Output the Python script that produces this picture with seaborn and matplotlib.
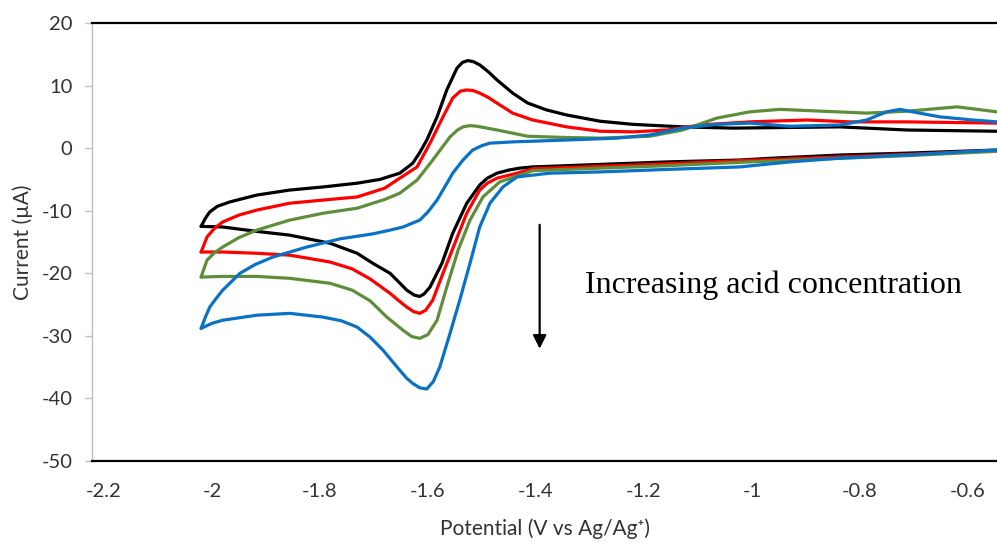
import matplotlib
matplotlib.use('Agg')
import matplotlib.pyplot as plt
import matplotlib.ticker as mticker
import pandas as pd
import seaborn as sns

# Cyclic voltammograms: (potential V, current uA)
# forward (upper) and reverse (lower) branches per acid level
black_fwd_E = [-2.02, -2.012, -2.004, -1.990, -1.967, -1.917, -1.856, -1.794, -1.731, -1.689, -1.652, -1.628,
               -1.615, -1.602, -1.583, -1.565, -1.546, -1.536, -1.526, -1.515, -1.504, -1.488, -1.472,
               -1.443, -1.415, -1.380, -1.343, -1.281, -1.220, -1.128, -1.035, -0.837, -0.713, -0.546]
black_fwd_I = [-12.5, -11.2, -10.2, -9.3, -8.6, -7.5, -6.7, -6.2, -5.6, -5.0, -4.0, -2.4,
               -0.7, 1.3, 5.0, 9.3, 12.8, 13.7, 14.0, 13.8, 13.3, 12.2, 10.9,
               8.8, 7.2, 6.1, 5.3, 4.3, 3.8, 3.4, 3.2, 3.4, 2.9, 2.7]
black_rev_E = [-0.546, -0.713, -0.837, -0.961, -1.022, -1.157, -1.281, -1.406, -1.430, -1.450, -1.472,
               -1.490, -1.504, -1.528, -1.554, -1.574, -1.596, -1.607, -1.615, -1.625, -1.639, -1.655,
               -1.670, -1.702, -1.731, -1.781, -1.856, -1.917, -1.980, -2.02]
black_rev_I = [-0.3, -0.8, -1.1, -1.6, -1.9, -2.2, -2.6, -3.0, -3.2, -3.5, -4.0,
               -4.8, -5.9, -8.8, -13.6, -18.4, -22.2, -23.3, -23.7, -23.5, -22.7, -21.3,
               -20.0, -18.4, -16.8, -15.2, -13.9, -13.3, -12.6, -12.5]

red_fwd_E = [-2.02, -2.014, -2.009, -1.995, -1.980, -1.950, -1.917, -1.856, -1.794, -1.731, -1.680, -1.652,
             -1.620, -1.596, -1.572, -1.554, -1.540, -1.528, -1.516, -1.504, -1.488, -1.472, -1.443,
             -1.406, -1.343, -1.281, -1.220, -1.157, -1.096, -1.004, -0.898, -0.819, -0.713, -0.546]
red_fwd_I = [-16.6, -15.3, -14.2, -12.8, -11.8, -10.7, -9.9, -8.8, -8.3, -7.8, -6.4, -4.8,
             -3.0, 0.8, 5.0, 8.0, 9.1, 9.3, 9.2, 8.8, 8.1, 7.2, 5.6,
             4.5, 3.4, 2.7, 2.6, 2.9, 3.7, 4.2, 4.5, 4.2, 4.2, 4.0]
red_rev_E = [-0.546, -0.713, -1.022, -1.157, -1.281, -1.406, -1.435, -1.472, -1.490, -1.504, -1.528,
             -1.550, -1.572, -1.591, -1.604, -1.615, -1.627, -1.639, -1.655, -1.670, -1.707, -1.740,
             -1.781, -1.856, -1.917, -1.980, -2.02]
red_rev_I = [-0.4, -1.0, -2.0, -2.5, -2.9, -3.3, -4.0, -4.8, -5.6, -6.7, -10.4,
             -15.2, -20.0, -24.3, -25.9, -26.4, -26.1, -25.4, -24.3, -23.2, -20.9, -19.3,
             -18.2, -17.1, -16.8, -16.6, -16.6]

green_fwd_E = [-2.02, -2.014, -2.009, -1.995, -1.980, -1.950, -1.917, -1.856, -1.794, -1.731, -1.680,
               -1.652, -1.620, -1.591, -1.559, -1.545, -1.535, -1.522, -1.509, -1.472, -1.415, -1.343,
               -1.281, -1.189, -1.128, -1.065, -1.004, -0.948, -0.869, -0.787, -0.713, -0.620, -0.546]
green_fwd_I = [-20.6, -19.1, -17.9, -16.7, -15.8, -14.3, -13.1, -11.5, -10.4, -9.6, -8.2,
               -7.2, -5.1, -1.9, 1.8, 2.9, 3.4, 3.6, 3.5, 2.9, 1.9, 1.7,
               1.6, 1.9, 2.9, 4.8, 5.8, 6.2, 5.9, 5.6, 5.9, 6.6, 5.8]
green_rev_E = [-0.546, -0.713, -1.004, -1.157, -1.281, -1.406, -1.430, -1.467, -1.498, -1.522, -1.544,
               -1.565, -1.583, -1.600, -1.615, -1.630, -1.646, -1.676, -1.707, -1.740, -1.781, -1.856,
               -1.917, -1.980, -2.02]
green_rev_I = [-0.5, -1.2, -2.2, -2.8, -3.2, -3.6, -4.3, -5.4, -7.8, -11.5, -16.3,
               -22.2, -27.5, -29.8, -30.4, -30.1, -29.1, -27.0, -24.4, -22.7, -21.6, -20.8,
               -20.5, -20.5, -20.6]

blue_fwd_E = [-2.02, -2.012, -2.004, -1.992, -1.980, -1.948, -1.920, -1.887, -1.824, -1.763, -1.702, -1.670,
              -1.646, -1.615, -1.600, -1.583, -1.568, -1.554, -1.535, -1.517, -1.500, -1.485, -1.443,
              -1.343, -1.250, -1.189, -1.128, -1.065, -1.004, -0.930, -0.837, -0.787, -0.768, -0.750,
              -0.726, -0.702, -0.652, -0.591, -0.546]
blue_fwd_I = [-28.8, -27.0, -25.4, -24.0, -22.7, -20.0, -18.6, -17.4, -15.8, -14.5, -13.7, -13.1,
              -12.6, -11.5, -10.2, -8.3, -6.1, -4.0, -1.9, -0.3, 0.4, 0.8, 1.0,
              1.3, 1.6, 2.1, 3.2, 3.8, 4.0, 3.5, 3.7, 4.5, 5.2, 5.8,
              6.2, 5.8, 5.0, 4.5, 4.2]
blue_rev_E = [-0.546, -0.713, -0.837, -0.930, -1.022, -1.157, -1.281, -1.374, -1.435, -1.461, -1.485,
              -1.504, -1.522, -1.541, -1.559, -1.578, -1.590, -1.602, -1.615, -1.628, -1.640, -1.652,
              -1.683, -1.707, -1.731, -1.760, -1.794, -1.856, -1.917, -1.980, -2.000, -2.02]
blue_rev_I = [-0.3, -1.1, -1.6, -2.2, -3.0, -3.4, -3.8, -4.0, -4.6, -6.2, -8.8,
              -12.6, -18.4, -24.3, -29.6, -35.0, -37.3, -38.5, -38.3, -37.6, -36.7, -35.5,
              -32.3, -30.2, -28.6, -27.6, -27.0, -26.4, -26.7, -27.5, -28.0, -28.8]

scans = {
    'black': (black_fwd_E, black_fwd_I, black_rev_E, black_rev_I),
    'red': (red_fwd_E, red_fwd_I, red_rev_E, red_rev_I),
    'green': (green_fwd_E, green_fwd_I, green_rev_E, green_rev_I),
    'blue': (blue_fwd_E, blue_fwd_I, blue_rev_E, blue_rev_I),
}
palette = {'black': '#000000', 'red': '#FF0000', 'green': '#5E8E3A', 'blue': '#0A72C4'}

x_ticks = [-2.2, -2.0, -1.8, -1.6, -1.4, -1.2, -1.0, -0.8, -0.6]
y_ticks = [-50, -40, -30, -20, -10, 0, 10, 20]

rows = []
for name, (fE, fI, rE, rI) in scans.items():
    for i, (e, c) in enumerate(zip(fE, fI)):
        rows.append({'scan': name, 'branch': name + '_fwd', 'step': i, 'E': e, 'I': c})
    for i, (e, c) in enumerate(zip(rE, rI)):
        rows.append({'scan': name, 'branch': name + '_rev', 'step': i, 'E': e, 'I': c})
df = pd.DataFrame(rows)

sns.set_style('white')
plt.rcParams['font.family'] = ['Lato', 'DejaVu Sans']
plt.rcParams['axes.unicode_minus'] = False

fig = plt.figure(figsize=(9.97, 5.45), dpi=100)
ax = fig.add_axes([0.0923, 0.1541, 0.9077, 0.8037])

sns.lineplot(data=df, x='E', y='I', hue='scan', units='branch', estimator=None,
             sort=False, palette=palette, linewidth=2.3, legend=False, ax=ax)

ax.set_xlim(-2.222, -0.546)
ax.set_ylim(-50, 20)
ax.set_xticks(x_ticks)
ax.set_yticks(y_ticks)
ax.xaxis.set_major_formatter(mticker.FuncFormatter(lambda v, p: f'{v:g}'))
ax.yaxis.set_major_formatter(mticker.FuncFormatter(lambda v, p: f'{v:g}'))

for side in ['top', 'bottom']:
    ax.spines[side].set_color('black')
    ax.spines[side].set_linewidth(1.6)
ax.spines['left'].set_color('#BFBFBF')
ax.spines['left'].set_linewidth(1.0)
ax.spines['right'].set_visible(False)

ax.tick_params(axis='y', which='major', direction='out', length=5, width=1,
               color='#BFBFBF', labelcolor='#333333', labelsize=14.5, pad=9, left=True)
ax.tick_params(axis='x', which='major', length=0, labelcolor='#333333', labelsize=14.5, pad=16)

ax.set_xlabel('Potential (V vs Ag/Ag⁺)', fontsize=15, color='#333333', labelpad=13)
ax.set_ylabel('Current (µA)', fontsize=15, color='#333333', labelpad=6)

ax.annotate('', xy=(-1.393, -32.5), xytext=(-1.393, -11.8),
            arrowprops=dict(arrowstyle='-|>', color='black', lw=1.6, mutation_scale=20))
ax.text(-1.309, -21.9, 'Increasing acid concentration', family='Liberation Serif',
        fontsize=23, color='black', va='center', ha='left')

fig.savefig('out.png', dpi=100)
